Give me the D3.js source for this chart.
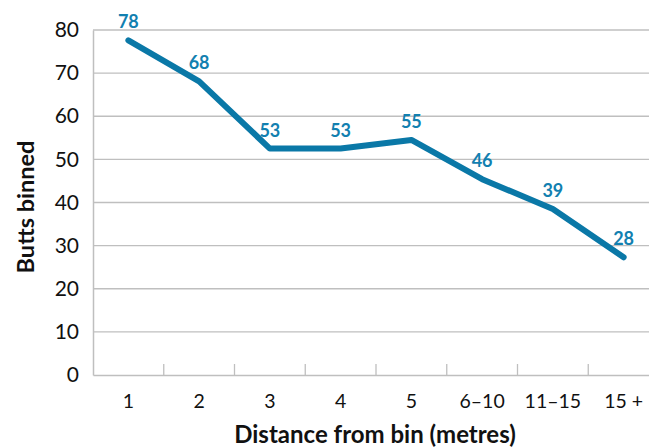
<!DOCTYPE html>
<meta charset="utf-8">
<script src="https://d3js.org/d3.v7.min.js"></script>
<style>
  body { margin: 0; background: #fff; }
  text { font-family: Lato, "Open Sans", sans-serif; }
</style>
<div id="chart"></div>
<script>

// data
var categories = ["1", "2", "3", "4", "5", "6\u201310", "11\u201315", "15 +"]
var buttsBinned = [77.6, 68.1, 52.5, 52.5, 54.5, 45.4, 38.5, 27.3]
var valueLabels = ["78", "68", "53", "53", "55", "46", "39", "28"]
var yTicks = [0, 10, 20, 30, 40, 50, 60, 70, 80]

var width = 649, height = 448
var plotLeft = 93, plotRight = 659, plotTop = 30, plotBottom = 375

var svg = d3.select("#chart")
  .append("svg")
    .attr("width", width)
    .attr("height", height)

var x = d3.scaleBand()
  .domain(categories)
  .range([plotLeft, plotRight])

var y = d3.scaleLinear()
  .domain([0, 80])
  .range([plotBottom, plotTop])

// gridlines
svg.append("g")
  .selectAll("line")
  .data(yTicks.filter(function(d) { return d > 0 }))
  .enter()
  .append("line")
    .attr("x1", plotLeft)
    .attr("x2", plotRight)
    .attr("y1", function(d) { return y(d) })
    .attr("y2", function(d) { return y(d) })
    .attr("stroke", "#bfbfbf")
    .attr("stroke-width", 1.3)

// y axis
var yAxis = svg.append("g")
  .attr("transform", "translate(" + plotLeft + ",0)")
  .call(d3.axisLeft(y).tickValues(yTicks).tickSize(0).tickPadding(14))
yAxis.select(".domain").attr("stroke", "#bfbfbf").attr("stroke-width", 1.5)
yAxis.selectAll("text")
  .attr("font-size", 21)
  .attr("fill", "#111")
  .attr("font-family", "Lato, sans-serif")

// x axis, ticks between categories pointing up
var xAxis = svg.append("g")
  .attr("transform", "translate(0," + plotBottom + ")")
  .call(d3.axisBottom(x).tickSize(0).tickPadding(19))
xAxis.select(".domain").attr("stroke", "#bfbfbf").attr("stroke-width", 1.5)
xAxis.selectAll("text")
  .attr("font-size", 19.5)
  .attr("fill", "#111")
  .attr("font-family", "Lato, sans-serif")

xAxis.selectAll(".sep")
  .data(categories.slice(1))
  .enter()
  .append("line")
    .attr("class", "sep")
    .attr("x1", function(d) { return x(d) })
    .attr("x2", function(d) { return x(d) })
    .attr("y1", 0)
    .attr("y2", -11)
    .attr("stroke", "#bfbfbf")
    .attr("stroke-width", 1.3)

// the line
var pts = categories.map(function(c, i) { return {cat: c, value: buttsBinned[i], label: valueLabels[i]} })

svg.append("path")
  .datum(pts)
  .attr("d", d3.line()
    .x(function(d) { return x(d.cat) + x.bandwidth() / 2 })
    .y(function(d) { return y(d.value) })
  )
  .attr("fill", "none")
  .attr("stroke", "#0a78a7")
  .attr("stroke-width", 6)
  .attr("stroke-linecap", "round")
  .attr("stroke-linejoin", "round")

// value labels
svg.append("g")
  .selectAll("text")
  .data(pts)
  .enter()
  .append("text")
    .attr("x", function(d) { return x(d.cat) + x.bandwidth() / 2 })
    .attr("y", function(d) { return y(d.value) - 12 })
    .attr("text-anchor", "middle")
    .attr("font-size", 18)
    .attr("font-weight", "bold")
    .attr("fill", "#1280b0")
    .text(function(d) { return d.label })

// axis titles
svg.append("text")
  .attr("x", 375)
  .attr("y", 443)
  .attr("text-anchor", "middle")
  .attr("font-size", 24)
  .attr("font-weight", "bold")
  .attr("fill", "#111")
  .text("Distance from bin (metres)")

svg.append("text")
  .attr("transform", "translate(34,207) rotate(-90)")
  .attr("text-anchor", "middle")
  .attr("font-size", 23.5)
  .attr("font-weight", "bold")
  .attr("fill", "#111")
  .text("Butts binned")

</script>
